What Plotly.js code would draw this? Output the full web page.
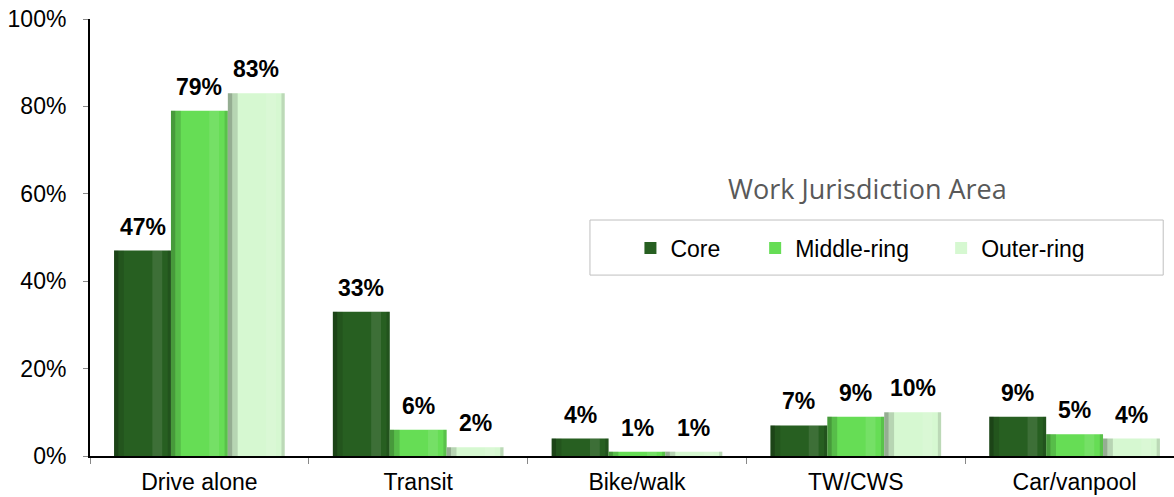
<!DOCTYPE html>
<html>
<head>
<meta charset="utf-8">
<script src="https://cdn.plot.ly/plotly-3.0.1.min.js"></script>
<style>
  html, body { margin: 0; padding: 0; overflow: hidden; background: #fff; }
  #myDiv { width: 1190px; height: 497px; }
</style>
</head>
<body>
<div id="myDiv"></div>
<script>
var categories = ['Drive alone', 'Transit', 'Bike/walk', 'TW/CWS', 'Car/vanpool'];
var seriesNames = ['Core', 'Middle-ring', 'Outer-ring'];
var core = [47, 33, 4, 7, 9];
var middleRing = [79, 6, 1, 9, 5];
var outerRing = [83, 2, 1, 10, 4];
var yTicks = [0, 20, 40, 60, 80, 100];

var seriesValues = [core, middleRing, outerRing];
var colors = ['#275f21', '#66dd55', '#d6f8d1'];
var barW = 0.26;
var offsets = [-0.39, -0.13, 0.13];
var legendIds = ['legend', 'legend2', 'legend3'];

var data = [];
// main bars
for (var i = 0; i < 3; i++) {
  data.push({
    type: 'bar', x: categories, y: seriesValues[i], name: seriesNames[i],
    marker: {color: colors[i], line: {width: 0}},
    width: barW, offset: offsets[i],
    legend: legendIds[i], hoverinfo: 'y+name'
  });
}
// shading strips to fake the cylinder look
var shades = [
  {dx: 0.0, w: 0.02, c: 'rgba(0,0,0,0.28)'},
  {dx: 0.02, w: 0.025, c: 'rgba(0,0,0,0.10)'},
  {dx: 0.175, w: 0.045, c: 'rgba(255,255,255,0.10)'},
  {dx: 0.245, w: 0.015, c: 'rgba(0,0,0,0.12)'}
];
for (var i = 0; i < 3; i++) {
  for (var s = 0; s < shades.length; s++) {
    var c = shades[s].c;
    if (i > 0 && s < 2) c = 'rgba(0,0,0,' + (s == 0 ? 0.3 : 0.14) + ')';
    data.push({
      type: 'bar', x: categories, y: seriesValues[i],
      marker: {color: c, line: {width: 0}},
      width: shades[s].w, offset: offsets[i] + shades[s].dx,
      showlegend: false, hoverinfo: 'skip'
    });
  }
}

var plotW = 1094;
var barPx = barW * plotW / categories.length;
var annotations = [];
for (var i = 0; i < 3; i++) {
  for (var j = 0; j < categories.length; j++) {
    annotations.push({
      x: categories[j], y: seriesValues[i][j], xref: 'x', yref: 'y',
      text: '<b>' + seriesValues[i][j] + '%</b>', showarrow: false,
      xshift: (i - 1) * barPx, yanchor: 'bottom', yshift: 9,
      font: {family: 'Liberation Sans, Arial, sans-serif', size: 23, color: '#000'}
    });
  }
}
annotations.push({
  text: 'Work Jurisdiction Area', xref: 'paper', yref: 'paper',
  x: 0.711, y: 0.613, showarrow: false, xanchor: 'center', yanchor: 'middle',
  font: {family: 'Open Sans, sans-serif', size: 27, color: '#595959'}
});

var legFont = {family: 'Liberation Sans, Arial, sans-serif', size: 23, color: '#000'};
function leg(x) {
  return {x: x, y: 0.476, xanchor: 'left', yanchor: 'middle', orientation: 'h',
          bgcolor: 'rgba(0,0,0,0)', borderwidth: 0, font: legFont, itemwidth: 30};
}

var layout = {
  width: 1190, height: 497,
  margin: {l: 90, r: 6, t: 19, b: 41},
  paper_bgcolor: '#fff', plot_bgcolor: '#fff',
  barmode: 'overlay',
  showlegend: true,
  font: {family: 'Liberation Sans, Arial, sans-serif', size: 23, color: '#000'},
  xaxis: {
    type: 'category', showline: true, linecolor: '#000', linewidth: 2,
    ticks: 'outside', tickson: 'boundaries', ticklen: 6, tickcolor: '#888', tickwidth: 1,
    showgrid: false, zeroline: false, ticklabelstandoff: 4,
    tickfont: {family: 'Liberation Sans, Arial, sans-serif', size: 23, color: '#000'}
  },
  yaxis: {
    range: [0, 100], tickvals: yTicks, ticktext: yTicks.map(function(v){ return v + '%'; }),
    showline: true, linecolor: '#000', linewidth: 2, showgrid: false, zeroline: false,
    ticks: 'outside', ticklen: 5, tickcolor: '#888', tickwidth: 1, ticklabelstandoff: 12,
    tickfont: {family: 'Liberation Sans, Arial, sans-serif', size: 23, color: '#000'}
  },
  legend: leg(0.494),
  legend2: leg(0.608),
  legend3: leg(0.778),
  annotations: annotations,
  shapes: [{
    type: 'rect', xref: 'paper', yref: 'paper',
    x0: 0.457, x1: 0.981, y0: 0.414, y1: 0.540,
    line: {color: '#bfbfbf', width: 1}, fillcolor: 'rgba(0,0,0,0)', layer: 'below'
  }]
};

Plotly.newPlot('myDiv', data, layout, {displayModeBar: false, staticPlot: true});
</script>
</body>
</html>
